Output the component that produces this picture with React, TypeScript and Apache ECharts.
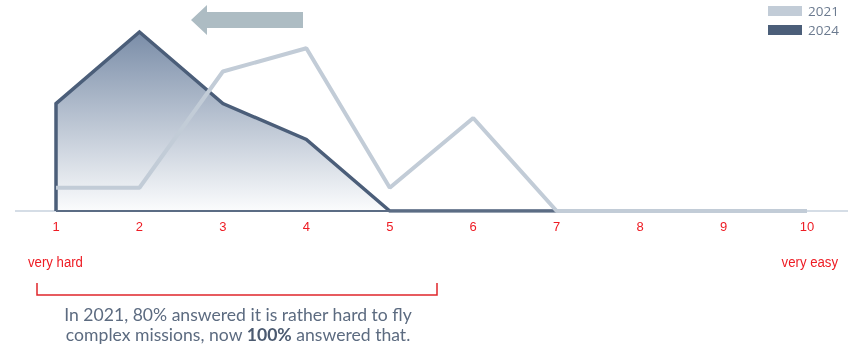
import React, { useEffect, useRef } from "react";
import * as echarts from "echarts";

// Difficulty scale 1 (very hard) … 10 (very easy)
const scaleTicks = [1, 2, 3, 4, 5, 6, 7, 8, 9, 10];
// Share of answers (%) per scale step
const x2021 = [1, 2, 3, 4, 5, 6, 7, 8, 9, 10];
const share2021 = [5, 5, 30, 35, 5, 20, 0, 0, 0, 0];
// 2024 outline starts on the baseline at step 1
const x2024 = [1, 1, 2, 3, 4, 5, 6, 7];
const share2024 = [0, 23.1, 38.5, 23.1, 15.4, 0, 0, 0];
const baselineX = [1, 7];
const baselineY = [0, 0];

const C2021 = "#c2ccd7";
const C2024 = "#4b5e79";
const RED = "#ee1c24";
const ARIAL = "'Liberation Sans', Arial, sans-serif";
const SANS = "'Open Sans', Lato, sans-serif";
const CAPTION = "Lato, 'Open Sans', sans-serif";

const pairs = (xs: number[], ys: number[]) => xs.map((x, i) => [x, ys[i]]);

export default function App() {
  const ref = useRef<HTMLDivElement>(null);
  useEffect(() => {
    if (!ref.current) return;
    const chart = echarts.init(ref.current, undefined, { renderer: "svg" });
    chart.setOption({
      animation: false,
      grid: { left: 56, right: 45, top: 25, bottom: 133 },
      legend: {
        data: ["2021", "2024"],
        orient: "vertical",
        left: 768,
        top: 4,
        padding: [0, 0, 0, 0],
        itemWidth: 34,
        itemHeight: 10,
        itemGap: 5,
        icon: "rect",
        textStyle: { color: "#6b7a8f", fontSize: 13.5, fontFamily: SANS, lineHeight: 12, padding: [0, 0, 0, 1] },
      },
      xAxis: {
        type: "value",
        min: 1,
        max: 10,
        interval: 1,
        axisLine: { show: false },
        axisTick: { show: false },
        splitLine: { show: false },
        axisLabel: {
          color: RED,
          fontSize: 13,
          fontFamily: ARIAL,
          margin: 9,
          formatter: (v: number) => (scaleTicks.includes(v) ? String(v) : ""),
        },
      },
      yAxis: { type: "value", min: 0, max: 40, show: false },
      graphic: [
        { type: "line", shape: { x1: 15, y1: 211, x2: 848, y2: 211 }, style: { stroke: "#d5dde6", lineWidth: 2 }, z: 0 },
        // leftward shift arrow
        {
          type: "polygon",
          shape: { points: [[191, 20], [207, 5], [207, 12], [303, 12], [303, 28], [207, 28], [207, 35]] },
          style: { fill: "#adbcc3" },
        },
        {
          type: "text", x: 28, y: 254, scaleX: 0.88,
          style: { text: "very hard", fill: RED, font: `15px ${ARIAL}` },
        },
        {
          type: "text", x: 838, y: 254, scaleX: 0.88,
          style: { text: "very easy", fill: RED, font: `15px ${ARIAL}`, textAlign: "right" },
        },
        {
          type: "polyline",
          shape: { points: [[37, 283], [37, 295], [437, 295], [437, 283]] },
          style: { stroke: "#e0262b", lineWidth: 1.5, fill: null },
        },
        {
          type: "text",
          x: 238,
          y: 314.5,
          scaleX: 1.06,
          style: {
            text: "In 2021, 80% answered it is rather hard to fly",
            fill: "#5c6b80",
            font: `16.6px ${CAPTION}`,
            textAlign: "center",
            textVerticalAlign: "middle",
          },
        },
        {
          type: "text",
          x: 238,
          y: 334.5,
          scaleX: 1.06,
          style: {
            text: "complex missions, now {b|100%} answered that.",
            fill: "#5c6b80",
            font: `16.6px ${CAPTION}`,
            textAlign: "center",
            textVerticalAlign: "middle",
            rich: { b: { fontWeight: "bold", fontSize: 16.6, fontFamily: CAPTION, fill: "#4b5a70" } },
          },
        },
      ],
      series: [
        {
          name: "2024",
          type: "line",
          data: pairs(x2024, share2024),
          symbol: "none",
          z: 2,
          lineStyle: { color: C2024, width: 3.5, join: "miter" },
          itemStyle: { color: C2024 },
          areaStyle: {
            color: new echarts.graphic.LinearGradient(0, 0, 0, 1, [
              { offset: 0, color: "#7a8da8" },
              { offset: 1, color: "#fbfcfd" },
            ]),
            opacity: 1,
          },
        },
        {
          type: "line",
          data: pairs(baselineX, baselineY),
          symbol: "none",
          z: 3,
          lineStyle: { color: "#5b6c84", width: 2 },
          silent: true,
        },
        {
          name: "2021",
          type: "line",
          data: pairs(x2021, share2021),
          symbol: "none",
          z: 4,
          lineStyle: { color: C2021, width: 4 },
          itemStyle: { color: C2021 },
        },
      ],
    });
    return () => chart.dispose();
  }, []);
  return <div ref={ref} style={{ width: 852, height: 344, position: "fixed", left: 0, top: 0 }} />;
}
